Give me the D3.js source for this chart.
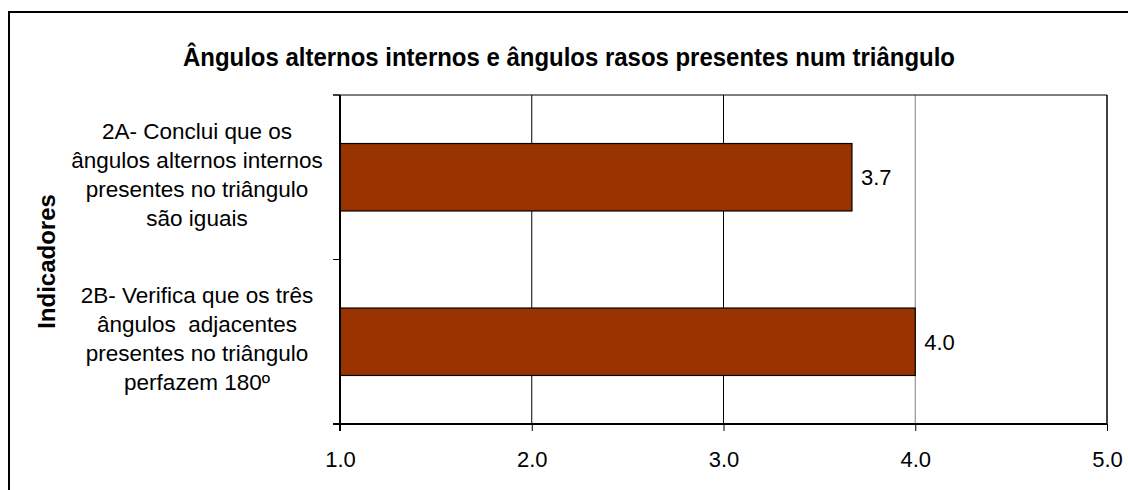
<!DOCTYPE html>
<html>
<head>
<meta charset="utf-8">
<script src="https://cdn.jsdelivr.net/npm/d3@7"></script>
<style>
  html, body { margin: 0; padding: 0; background: #fff; overflow: hidden; }
  svg { display: block; }
</style>
</head>
<body>
<div id="chart"></div>
<script>
const title = 'Ângulos alternos internos e ângulos rasos presentes num triângulo'
const yTitle = 'Indicadores'
const categories = ['2A', '2B']
const categoryLines = [
  ['2A- Conclui que os', 'ângulos alternos internos', 'presentes no triângulo', 'são iguais'],
  ['2B- Verifica que os três', 'ângulos  adjacentes', 'presentes no triângulo', 'perfazem 180º']
]
const values = [3.67, 4.0]
const xTicks = [1, 2, 3, 4, 5]

const width = 1128
const height = 490
const margin = { top: 95, right: 21, bottom: 66, left: 340 }
const innerW = width - margin.left - margin.right
const innerH = height - margin.top - margin.bottom
const font = '"Liberation Sans", Arial, sans-serif'

const svg = d3.select('#chart')
  .append('svg')
  .attr('width', width)
  .attr('height', height)

// outer chart frame (runs past the window edge)
svg.append('rect')
  .attr('x', 9)
  .attr('y', 12)
  .attr('width', 1200)
  .attr('height', 600)
  .attr('fill', '#fff')
  .attr('stroke', '#000')
  .attr('stroke-width', 2)

svg.append('text')
  .attr('x', 569)
  .attr('y', 66)
  .attr('text-anchor', 'middle')
  .attr('font-family', '"Liberation Sans Narrow", "Arial Narrow", "Liberation Sans", sans-serif')
  .attr('font-weight', 'bold')
  .attr('font-size', 25)
  .attr('textLength', 772)
  .attr('lengthAdjust', 'spacingAndGlyphs')
  .text(title)

const g = svg.append('g')
  .attr('transform', `translate(${margin.left},${margin.top})`)

const x = d3.scaleLinear()
  .domain([1, 5])
  .range([0, innerW])

const y = d3.scaleBand()
  .domain(categories)
  .range([0, innerH])
  .paddingInner(0.59)
  .paddingOuter(0.295)

const yEdges = d3.scaleLinear()
  .domain([0, categories.length])
  .range([0, innerH])

// vertical gridlines
g.append('g')
  .selectAll('line')
  .data(xTicks.slice(1))
  .join('line')
  .attr('x1', d => x(d))
  .attr('x2', d => x(d))
  .attr('y1', 0)
  .attr('y2', innerH)
  .attr('stroke', d => d === 4 ? '#808080' : '#000')
  .attr('stroke-width', d => d === 5 ? 1.5 : 1)

// top border
g.append('line')
  .attr('x1', -7)
  .attr('x2', innerW)
  .attr('y1', 0)
  .attr('y2', 0)
  .attr('stroke', '#000')

// bars
g.append('g')
  .selectAll('rect')
  .data(values)
  .join('rect')
  .attr('x', x(1))
  .attr('y', (d, i) => y(categories[i]))
  .attr('width', d => x(d) - x(1))
  .attr('height', y.bandwidth())
  .attr('fill', '#993300')
  .attr('stroke', '#000')
  .attr('stroke-width', 1.2)

// value labels
g.append('g')
  .selectAll('text')
  .data(values)
  .join('text')
  .attr('x', d => x(d) + 9)
  .attr('y', (d, i) => y(categories[i]) + y.bandwidth() / 2)
  .attr('dy', '0.36em')
  .attr('font-family', font)
  .attr('font-size', 22)
  .text(d => d3.format('.1f')(d))

// x axis
const xAxis = g.append('g')
  .attr('transform', `translate(0,${innerH})`)
  .call(d3.axisBottom(x).tickValues(xTicks).tickSize(7).tickPadding(20).tickFormat(d3.format('.1f')))
xAxis.select('.domain').attr('stroke-width', 2).attr('d', `M-7,0H${innerW}`)
xAxis.selectAll('.tick line').attr('stroke-width', 1)
xAxis.selectAll('text')
  .attr('font-family', font)
  .attr('font-size', 22)
  .attr('fill', '#000')

// y axis line and category separator ticks
g.append('line')
  .attr('x1', 0).attr('x2', 0)
  .attr('y1', 0).attr('y2', innerH + 7)
  .attr('stroke', '#000')
  .attr('stroke-width', 2)

g.append('g')
  .selectAll('line')
  .data(d3.range(categories.length + 1))
  .join('line')
  .attr('x1', -7)
  .attr('x2', 0)
  .attr('y1', d => yEdges(d))
  .attr('y2', d => yEdges(d))
  .attr('stroke', '#000')

// category labels (multi-line)
const lineH = 29
const labels = g.append('g')
  .selectAll('text')
  .data(categoryLines)
  .join('text')
  .attr('text-anchor', 'middle')
  .attr('font-family', font)
  .attr('font-size', 22.5)
  .attr('fill', '#000')
  .attr('transform', (d, i) => {
    const cy = y(categories[i]) + y.bandwidth() / 2 - 3
    return `translate(${197 - margin.left},${cy})`
  })

labels.selectAll('tspan')
  .data(d => d)
  .join('tspan')
  .attr('x', 0)
  .attr('y', (d, i, nodes) => (i - (nodes.length - 1) / 2) * lineH)
  .attr('dy', '0.36em')
  .style('white-space', 'pre')
  .text(d => d)

svg.append('text')
  .attr('transform', `translate(46,${margin.top + innerH / 2 + 2}) rotate(-90)`)
  .attr('text-anchor', 'middle')
  .attr('dy', '0.36em')
  .attr('font-family', font)
  .attr('font-weight', 'bold')
  .attr('font-size', 24)
  .text(yTitle)
</script>
</body>
</html>
